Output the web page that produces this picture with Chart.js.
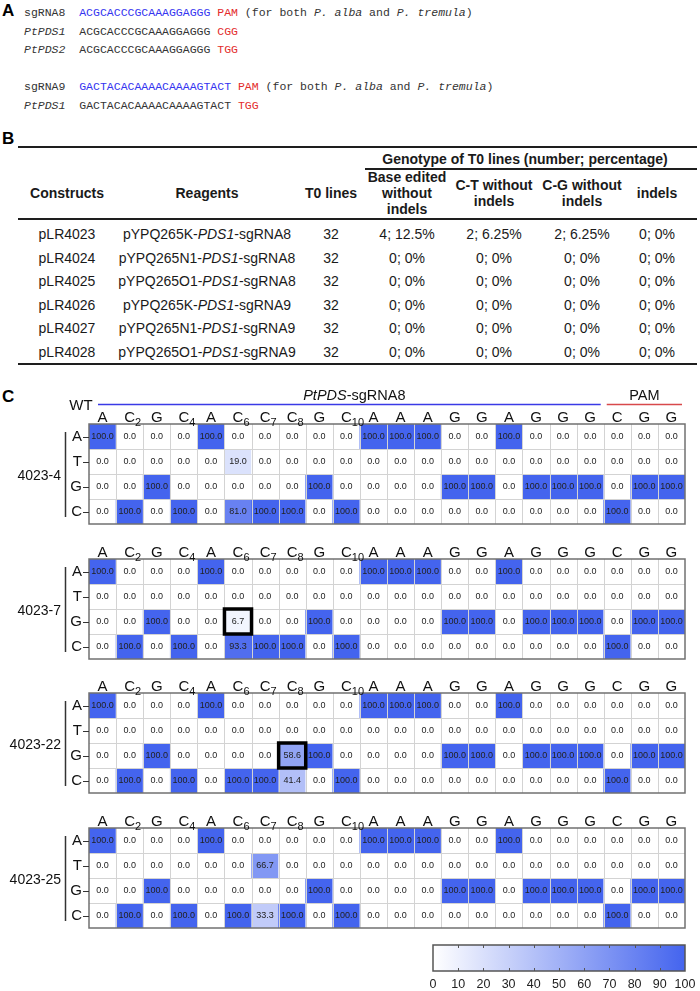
<!DOCTYPE html>
<html><head><meta charset="utf-8">
<script src="https://cdn.jsdelivr.net/npm/chart.js@4.4.1/dist/chart.umd.min.js"></script>
<style>
html,body{margin:0;padding:0;background:#fff;}
body{width:700px;height:991px;position:relative;overflow:hidden;font-family:"Liberation Sans",Arial,sans-serif;}
.abs{position:absolute;white-space:pre;}
.mono{font-family:"Liberation Mono","Courier New",monospace;font-size:11.5px;color:#333;line-height:14px;}
.blue{color:#3434f0}.red{color:#e32b2b}
.panel{position:absolute;font-weight:bold;font-size:17px;line-height:20px;color:#000;}
.hr{position:absolute;background:#1e1e1e;}
.cell{position:absolute;text-align:center;font-size:14px;line-height:16px;color:#1a1a1a;width:400px;white-space:nowrap;}
.bold{font-weight:bold;}
canvas{position:absolute;}
</style></head><body>
<script>
// ---------------- DATA ----------------
// Panel A
const sgRNA8 = 'ACGCACCCGCAAAGGAGGG';
const sgRNA9 = 'GACTACACAAAACAAAAGTACT';
const panelARows = [
  {name:'sgRNA8', italic:false, seq:sgRNA8, seqBlue:true, pam:'PAM', note:true},
  {name:'PtPDS1', italic:true, seq:sgRNA8, seqBlue:false, pam:'CGG', note:false},
  {name:'PtPDS2', italic:true, seq:sgRNA8, seqBlue:false, pam:'TGG', note:false},
  {name:'sgRNA9', italic:false, seq:sgRNA9, seqBlue:true, pam:'PAM', note:true},
  {name:'PtPDS1', italic:true, seq:sgRNA9, seqBlue:false, pam:'TGG', note:false}
];
// Panel B
const constructs = ['pLR4023','pLR4024','pLR4025','pLR4026','pLR4027','pLR4028'];
const vectors = ['pYPQ265K','pYPQ265N1','pYPQ265O1','pYPQ265K','pYPQ265N1','pYPQ265O1'];
const guides = ['sgRNA8','sgRNA8','sgRNA8','sgRNA9','sgRNA9','sgRNA9'];
const t0Lines = [32,32,32,32,32,32];
const baseEdited = ['4; 12.5%','0; 0%','0; 0%','0; 0%','0; 0%','0; 0%'];
const ctNoIndels = ['2; 6.25%','0; 0%','0; 0%','0; 0%','0; 0%','0; 0%'];
const cgNoIndels = ['2; 6.25%','0; 0%','0; 0%','0; 0%','0; 0%','0; 0%'];
const indels = ['0; 0%','0; 0%','0; 0%','0; 0%','0; 0%','0; 0%'];
// Panel C
const wtBases = ['A','C','G','C','A','C','C','C','G','C','A','A','A','G','G','A','G','G','G','C','G','G'];
const wtSubs  = ['','2','','4','','6','7','8','','10','','','','','','','','','','','',''];
const readBases = ['A','T','G','C'];
const sampleNames = ['4023-4','4023-7','4023-22','4023-25'];
const line4023_4 = [
  [100,0,0,0,100,0,0,0,0,0,100,100,100,0,0,100,0,0,0,0,0,0],
  [0,0,0,0,0,19.0,0,0,0,0,0,0,0,0,0,0,0,0,0,0,0,0],
  [0,0,100,0,0,0,0,0,100,0,0,0,0,100,100,0,100,100,100,0,100,100],
  [0,100,0,100,0,81.0,100,100,0,100,0,0,0,0,0,0,0,0,0,100,0,0]
];
const line4023_7 = [
  [100,0,0,0,100,0,0,0,0,0,100,100,100,0,0,100,0,0,0,0,0,0],
  [0,0,0,0,0,0,0,0,0,0,0,0,0,0,0,0,0,0,0,0,0,0],
  [0,0,100,0,0,6.7,0,0,100,0,0,0,0,100,100,0,100,100,100,0,100,100],
  [0,100,0,100,0,93.3,100,100,0,100,0,0,0,0,0,0,0,0,0,100,0,0]
];
const line4023_22 = [
  [100,0,0,0,100,0,0,0,0,0,100,100,100,0,0,100,0,0,0,0,0,0],
  [0,0,0,0,0,0,0,0,0,0,0,0,0,0,0,0,0,0,0,0,0,0],
  [0,0,100,0,0,0,0,58.6,100,0,0,0,0,100,100,0,100,100,100,0,100,100],
  [0,100,0,100,0,100,100,41.4,0,100,0,0,0,0,0,0,0,0,0,100,0,0]
];
const line4023_25 = [
  [100,0,0,0,100,0,0,0,0,0,100,100,100,0,0,100,0,0,0,0,0,0],
  [0,0,0,0,0,0,66.7,0,0,0,0,0,0,0,0,0,0,0,0,0,0,0],
  [0,0,100,0,0,0,0,0,100,0,0,0,0,100,100,0,100,100,100,0,100,100],
  [0,100,0,100,0,100,33.3,100,0,100,0,0,0,0,0,0,0,0,0,100,0,0]
];
const sampleMatrices = [line4023_4, line4023_7, line4023_22, line4023_25];
const highlightSample = [1, 2];
const highlightRow = [2, 2];
const highlightCol = [5, 7];
const regionLabels = ['PtPDS-sgRNA8', 'PAM'];
const regionStart = [0, 19];
const regionEnd = [18, 21];
const colorTicks = [0,10,20,30,40,50,60,70,80,90,100];

// ---------------- STYLE / LAYOUT ----------------
const FONT = '"Liberation Sans", Arial, sans-serif';
const HI = [68, 100, 238];
function heatColor(v){
  const t = v/100;
  return 'rgb(' + Math.round(255+(HI[0]-255)*t) + ',' + Math.round(255+(HI[1]-255)*t) + ',' + Math.round(255+(HI[2]-255)*t) + ')';
}
const body = document.body;
function addDiv(cls, html, left, top, extra){
  const d = document.createElement('div');
  d.className = cls; d.innerHTML = html;
  d.style.left = left + 'px'; d.style.top = top + 'px';
  if (extra) Object.assign(d.style, extra);
  body.appendChild(d); return d;
}
function hr(x1, x2, y, h){ addDiv('hr', '', x1, y - h/2, {width:(x2-x1)+'px', height:h+'px'}); }
function centered(html, cx, cy, bold){ addDiv('cell' + (bold ? ' bold' : ''), html, cx - 200, cy - 8); }

// Panel letters
addDiv('panel', 'A', 2, 1);
addDiv('panel', 'B', 2, 129);
addDiv('panel', 'C', 2, 387);

// Panel A
const panelAY = [13, 32, 50, 87, 106];
panelARows.forEach((r, i) => {
  const nm = r.italic ? '<i>' + r.name + '</i>' : r.name;
  const sq = r.seqBlue ? '<span class="blue">' + r.seq + '</span>' : r.seq;
  const note = r.note ? ' (for both <i>P. alba</i> and <i>P. tremula</i>)' : '';
  addDiv('abs mono', nm + '  ' + sq + ' <span class="red">' + r.pam + '</span>' + note, 24, panelAY[i] - 7);
});

// Panel B
const colX = [67, 207, 331, 407, 494, 582, 657];
hr(18, 697, 147, 2);
hr(365, 697, 169, 1.5);
hr(18, 697, 219, 2);
hr(18, 697, 364, 2);
centered('Genotype of T0 lines (number; percentage)', 525, 159, true);
centered('Constructs', colX[0], 193, true);
centered('Reagents', colX[1], 193, true);
centered('T0 lines', colX[2], 193, true);
centered('Base edited', colX[3], 177, true);
centered('without', colX[3], 193, true);
centered('indels', colX[3], 209, true);
centered('C-T without', colX[4], 185, true);
centered('indels', colX[4], 201, true);
centered('C-G without', colX[5], 185, true);
centered('indels', colX[5], 201, true);
centered('indels', colX[6], 193, true);
constructs.forEach((c, k) => {
  const y = 234 + 23.5*k;
  centered(c, colX[0], y);
  centered(vectors[k] + '-<i>PDS1</i>-' + guides[k], colX[1], y);
  centered(String(t0Lines[k]), colX[2], y);
  centered(baseEdited[k], colX[3], y);
  centered(ctNoIndels[k], colX[4], y);
  centered(cgNoIndels[k], colX[5], y);
  centered(indels[k], colX[6], y);
});

// Panel C heatmaps
const gridTops = [424, 558.5, 693, 827.5];
const GRID_H = 100, GRID_L = 89, GRID_R = 685;

function heatPlugin(idx){
  return {
    id: 'heat' + idx,
    afterDatasetsDraw(chart){
      const ctx = chart.ctx, a = chart.chartArea, x = chart.scales.x, y = chart.scales.y;
      const m = sampleMatrices[idx];
      const n = wtBases.length;
      const colW = x.getPixelForValue(1) - x.getPixelForValue(0);
      ctx.save();
      // inner grid
      ctx.strokeStyle = '#d3d3d3'; ctx.lineWidth = 1;
      ctx.beginPath();
      for (let i = 1; i < n; i++){
        const xx = Math.round(x.getPixelForValue(i) - colW/2) + 0.5;
        ctx.moveTo(xx, a.top); ctx.lineTo(xx, a.bottom);
      }
      for (let r = 1; r < readBases.length; r++){
        const yy = Math.round(y.getPixelForValue(r - 0.5)) + 0.5;
        ctx.moveTo(a.left, yy); ctx.lineTo(a.right, yy);
      }
      ctx.stroke();
      // values
      ctx.font = '9px ' + FONT; ctx.textAlign = 'center'; ctx.textBaseline = 'middle';
      ctx.fillStyle = '#222';
      for (let r = 0; r < readBases.length; r++){
        for (let i = 0; i < n; i++){
          ctx.fillText(m[r][i].toFixed(1), x.getPixelForValue(i), y.getPixelForValue(r) + 0.5);
        }
      }
      // border
      ctx.strokeStyle = '#707070'; ctx.lineWidth = 1.5;
      ctx.strokeRect(a.left, a.top, a.right - a.left, a.bottom - a.top);
      // highlight boxes
      highlightSample.forEach((s, k) => {
        if (s !== idx) return;
        const cx = x.getPixelForValue(highlightCol[k]);
        const y0 = y.getPixelForValue(highlightRow[k] - 0.5), y1 = y.getPixelForValue(highlightRow[k] + 0.5);
        ctx.strokeStyle = '#000'; ctx.lineWidth = 3.5;
        ctx.strokeRect(cx - colW/2, y0, colW, y1 - y0);
      });
      // column headers
      ctx.fillStyle = '#111'; ctx.textBaseline = 'alphabetic';
      for (let i = 0; i < n; i++){
        const cx = x.getPixelForValue(i);
        ctx.font = '15px ' + FONT; ctx.textAlign = 'center';
        ctx.fillText(wtBases[i], cx, a.top - 2);
        if (wtSubs[i]){
          const w = ctx.measureText(wtBases[i]).width;
          ctx.font = '11px ' + FONT; ctx.textAlign = 'left';
          ctx.fillText(wtSubs[i], cx + w/2, a.top + 1.5);
        }
      }
      // row labels and ticks
      ctx.font = '15px ' + FONT; ctx.textAlign = 'right'; ctx.textBaseline = 'middle';
      ctx.strokeStyle = '#333'; ctx.lineWidth = 1;
      for (let r = 0; r < readBases.length; r++){
        const yy = y.getPixelForValue(r);
        ctx.fillText(readBases[r], a.left - 7, yy + 0.5);
        ctx.beginPath(); ctx.moveTo(a.left - 6, Math.round(yy) + 0.5); ctx.lineTo(a.left, Math.round(yy) + 0.5); ctx.stroke();
      }
      // bracket
      ctx.lineWidth = 1.5; ctx.strokeStyle = '#333';
      ctx.beginPath(); ctx.moveTo(65.5, a.top + 8); ctx.lineTo(65.5, a.bottom - 7); ctx.stroke();
      // sample label
      ctx.font = '14px ' + FONT; ctx.textAlign = 'right'; ctx.fillStyle = '#111';
      ctx.fillText(sampleNames[idx], 61, (a.top + a.bottom)/2 + 2);
      // top header (first heatmap only)
      if (idx === 0){
        ctx.textAlign = 'center'; ctx.textBaseline = 'alphabetic';
        ctx.font = '15px ' + FONT;
        ctx.fillText('WT', 81, a.top - 14);
        const lineY = a.top - 19.5;
        regionLabels.forEach((lab, k) => {
          const x0 = x.getPixelForValue(regionStart[k]) - colW/2;
          const x1 = x.getPixelForValue(regionEnd[k]) + colW/2;
          ctx.strokeStyle = k === 0 ? '#3a3ae6' : '#d8494b'; ctx.lineWidth = 1.5;
          ctx.beginPath(); ctx.moveTo(x0 + (k === 0 ? 9 : 3), lineY); ctx.lineTo(x1 - 3, lineY); ctx.stroke();
          const cx = (k === 0) ? (x0 + x1)/2 + 8 : (x0 + x1)/2;
          ctx.font = '14.5px ' + FONT;
          if (lab.indexOf('-') > 0){
            const p1 = lab.split('-')[0], p2 = '-' + lab.split('-').slice(1).join('-');
            ctx.font = 'italic 14.5px ' + FONT; const w1 = ctx.measureText(p1).width;
            ctx.font = '14.5px ' + FONT; const w2 = ctx.measureText(p2).width;
            const sx = cx - (w1 + w2)/2;
            ctx.textAlign = 'left';
            ctx.font = 'italic 14.5px ' + FONT; ctx.fillText(p1, sx, lineY - 5);
            ctx.font = '14.5px ' + FONT; ctx.fillText(p2, sx + w1, lineY - 5);
          } else {
            ctx.textAlign = 'center'; ctx.fillText(lab, cx, lineY - 5);
          }
        });
      }
      ctx.restore();
    }
  };
}

function makeHeatmap(idx){
  const gTop = gridTops[idx];
  const cTop = idx === 0 ? 380 : gTop - 30;
  const H = Math.round(gTop + GRID_H + 6 - cTop);
  const canvas = document.createElement('canvas');
  canvas.width = 700; canvas.height = H;
  canvas.style.left = '0px'; canvas.style.top = cTop + 'px';
  canvas.style.width = '700px'; canvas.style.height = H + 'px';
  body.appendChild(canvas);
  const m = sampleMatrices[idx];
  const datasets = readBases.map((b, r) => ({
    label: b,
    data: m[r].map(() => [r - 0.5, r + 0.5]),
    backgroundColor: m[r].map(v => heatColor(v)),
    borderWidth: 0, grouped: false, barPercentage: 1, categoryPercentage: 1
  }));
  new Chart(canvas, {
    type: 'bar',
    data: { labels: wtBases.map((b, i) => b + wtSubs[i]), datasets },
    options: {
      responsive: false, animation: false, devicePixelRatio: 1,
      layout: { padding: { left: GRID_L, right: 700 - GRID_R, top: gTop - cTop, bottom: H - (gTop - cTop) - GRID_H } },
      plugins: { legend: { display: false }, tooltip: { enabled: false } },
      scales: {
        x: { display: false, offset: true },
        y: { display: false, min: -0.5, max: 3.5, reverse: true }
      }
    },
    plugins: [heatPlugin(idx)]
  });
}
[0,1,2,3].forEach(makeHeatmap);

// Colour bar
(function(){
  const cTop = 930, H = 61;
  const canvas = document.createElement('canvas');
  canvas.width = 300; canvas.height = H;
  canvas.style.left = '400px'; canvas.style.top = cTop + 'px';
  canvas.style.width = '300px'; canvas.style.height = H + 'px';
  body.appendChild(canvas);
  const barPlugin = {
    id: 'cbar',
    afterDatasetsDraw(chart){
      const ctx = chart.ctx, a = chart.chartArea, x = chart.scales.x;
      ctx.save();
      ctx.strokeStyle = '#555'; ctx.lineWidth = 1.5;
      ctx.strokeRect(a.left, a.top, a.right - a.left, a.bottom - a.top);
      ctx.lineWidth = 1;
      ctx.font = '12.5px ' + FONT; ctx.fillStyle = '#222';
      ctx.textAlign = 'center'; ctx.textBaseline = 'middle';
      colorTicks.forEach(t => {
        const px = Math.round(x.getPixelForValue(t)) + 0.5;
        if (t > 0 && t < 100){
          ctx.beginPath();
          ctx.moveTo(px, a.top); ctx.lineTo(px, a.top + 3);
          ctx.moveTo(px, a.bottom); ctx.lineTo(px, a.bottom - 3);
          ctx.stroke();
        }
        ctx.fillText(String(t), x.getPixelForValue(t), a.bottom + 14);
      });
      ctx.restore();
    }
  };
  new Chart(canvas, {
    type: 'bar',
    data: { labels: ['scale'], datasets: [{
      data: [[colorTicks[0], colorTicks[colorTicks.length - 1]]],
      backgroundColor: (c) => {
        const ch = c.chart, a = ch.chartArea;
        if (!a) return heatColor(50);
        const g = ch.ctx.createLinearGradient(a.left, 0, a.right, 0);
        g.addColorStop(0, heatColor(0)); g.addColorStop(1, heatColor(100));
        return g;
      },
      borderWidth: 0, barPercentage: 1, categoryPercentage: 1
    }]},
    options: {
      indexAxis: 'y', responsive: false, animation: false, devicePixelRatio: 1,
      layout: { padding: { left: 33, right: 15, top: 15, bottom: 20 } },
      plugins: { legend: { display: false }, tooltip: { enabled: false } },
      scales: { x: { display: false, min: 0, max: 100 }, y: { display: false } }
    },
    plugins: [barPlugin]
  });
})();
</script>
</body></html>
